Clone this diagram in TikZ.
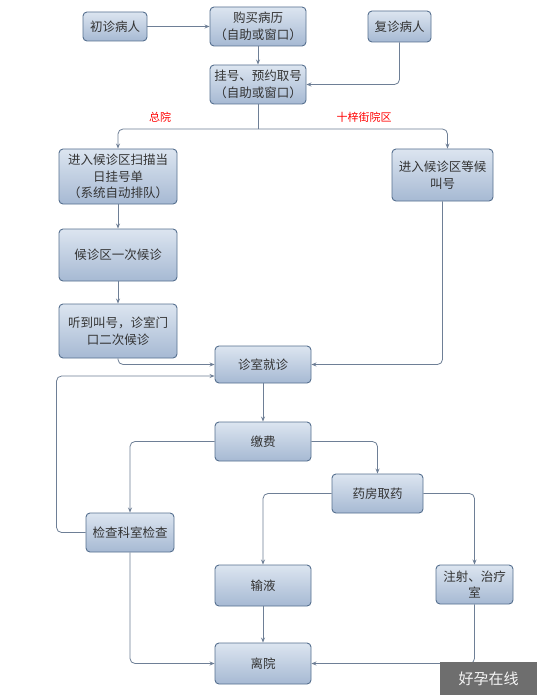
\documentclass[tikz,border=0pt]{standalone}
\usepackage{fontspec}
\setmainfont{Noto Sans CJK SC}
\usetikzlibrary{arrows.meta,calc}
\definecolor{boxtop}{HTML}{DCE5F0}
\definecolor{boxbot}{HTML}{A6B9D3}
\definecolor{boxline}{HTML}{56708F}
\definecolor{connc}{HTML}{6E7F96}
\definecolor{txt}{HTML}{333333}
\definecolor{wm}{HTML}{6E6E6E}
\begin{document}
\begin{tikzpicture}[x=1pt,y=-1pt,
  box/.style={draw=boxline, line width=0.9pt, rounded corners=4pt,
    top color=boxtop, bottom color=boxbot, text=txt,
    font=\fontsize{12.5}{16.5}\selectfont, align=center, inner sep=0pt},
  conn/.style={draw=connc, line width=0.8pt, rounded corners=5pt,
    -{Stealth[length=5pt,width=4pt]}},
  lbl/.style={text=red, font=\fontsize{11}{13}\selectfont}]
\useasboundingbox (0,0) rectangle (537,695);
\fill[white] (0,0) rectangle (537,695);

\node[box, minimum width=64pt, minimum height=29pt] (chuzhen) at (115,26.5) {初诊病人};
\node[box, minimum width=96pt, minimum height=39pt] (goumai) at (258,26.5) {购买病历\\（自助或窗口）};
\node[box, minimum width=63pt, minimum height=31pt] (fuzhen) at (399.5,26.5) {复诊病人};
\node[box, minimum width=96pt, minimum height=39pt] (guahao) at (258,84.5) {挂号、预约取号\\（自助或窗口）};
\node[box, minimum width=118pt, minimum height=55pt] (zongL) at (118,176.5) {进入候诊区扫描当\\日挂号单\\（系统自动排队）};
\node[box, minimum width=101pt, minimum height=52pt] (shiziR) at (442.5,175) {进入候诊区等候\\叫号};
\node[box, minimum width=118pt, minimum height=52pt] (yici) at (118,255) {候诊区一次候诊};
\node[box, minimum width=118pt, minimum height=54pt] (erci) at (118,331) {听到叫号，诊室门\\口二次候诊};
\node[box, minimum width=96pt, minimum height=37pt] (jiuzhen) at (263,364.5) {诊室就诊};
\node[box, minimum width=96pt, minimum height=39pt] (jiaofei) at (263,441.5) {缴费};
\node[box, minimum width=91pt, minimum height=39pt] (yaofang) at (377.5,493.5) {药房取药};
\node[box, minimum width=88pt, minimum height=39pt] (jiancha) at (130,532.5) {检查科室检查};
\node[box, minimum width=96pt, minimum height=41pt] (shuye) at (263,585.5) {输液};
\node[box, minimum width=77pt, minimum height=39pt] (zhushe) at (474.5,584.5) {注射、治疗\\室};
\node[box, minimum width=96pt, minimum height=41pt] (liyuan) at (263,663.5) {离院};

\node[lbl] (zy) at (160,117) {总院};
\node[lbl] (szj) at (364,117) {十梓街院区};

\coordinate (split) at (258,129);
\coordinate (jz2) at ($(jiuzhen.west)+(0,11.5)$);
\coordinate (rin) at ($(shiziR.north)+(5,0)$);

\draw[conn] (chuzhen) -- (goumai);
\draw[conn] (goumai) -- (guahao);
\draw[conn] (fuzhen.south) |- (guahao.east);
\draw[draw=connc, line width=0.8pt] (guahao.south) -- (split);
\draw[conn] (split) -| (zongL.north);
\draw[conn] (split) -| (rin);
\draw[conn] (zongL) -- (yici);
\draw[conn] (yici) -- (erci);
\draw[conn] (erci.south) |- (jiuzhen.west);
\draw[conn] (shiziR.south) |- (jiuzhen.east);
\draw[conn] (jiancha.west) -- ++(-29,0) |- (jz2);
\draw[conn] (jiuzhen) -- (jiaofei);
\draw[conn] (jiaofei.west) -| (jiancha.north);
\draw[conn] (jiaofei.east) -| (yaofang.north);
\draw[conn] (yaofang.west) -| (shuye.north);
\draw[conn] (yaofang.east) -| (zhushe.north);
\draw[conn] (shuye) -- (liyuan);
\draw[conn] (jiancha.south) |- (liyuan.west);
\draw[conn] (zhushe.south) |- (liyuan.east);

\node[fill=wm, text=white!92!gray, minimum width=97pt, minimum height=33pt,
  font=\fontsize{15}{18}\selectfont, inner sep=0pt] (wmk) at (488.5,678.5) {好孕在线};
\end{tikzpicture}
\end{document}
